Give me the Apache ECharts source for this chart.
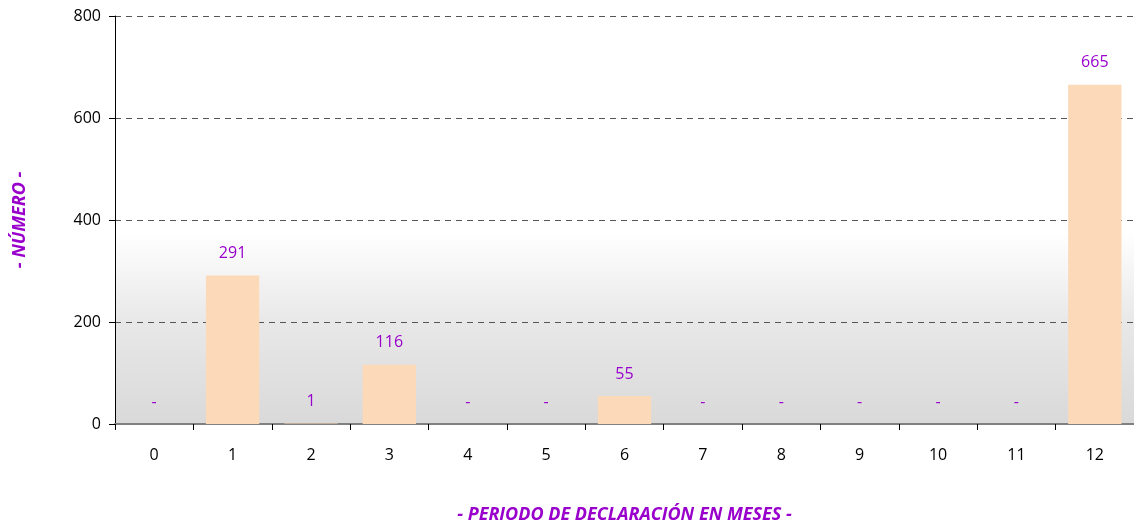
<!DOCTYPE html>
<html>
<head>
<meta charset="utf-8">
<script src="https://cdn.jsdelivr.net/npm/echarts@6/dist/echarts.min.js"></script>
<style>
  html, body { margin: 0; padding: 0; background: #fff; }
  #chart { width: 1134px; height: 526px; }
</style>
</head>
<body>
<div id="chart"></div>
<script>
var months = ['0', '1', '2', '3', '4', '5', '6', '7', '8', '9', '10', '11', '12'];
var counts = [0, 291, 1, 116, 0, 0, 55, 0, 0, 0, 0, 0, 665];
var yTicks = [0, 200, 400, 600, 800];

var purple = '#9900cc';
var fontFam = '"Open Sans", "Noto Sans", sans-serif';

var chart = echarts.init(document.getElementById('chart'));

var option = {
    animation: false,
    grid: {
        left: 115,
        right: 0,
        top: 16,
        bottom: 102,
        outerBoundsMode: 'none',
        containLabel: false,
        show: true,
        borderWidth: 0,
        backgroundColor: {
            type: 'linear', x: 0, y: 0, x2: 0, y2: 1,
            colorStops: [
                { offset: 0, color: '#ffffff' },
                { offset: 0.53, color: '#ffffff' },
                { offset: 0.75, color: '#e8e8e8' },
                { offset: 1, color: '#d9d9d9' }
            ]
        }
    },
    xAxis: {
        type: 'category',
        data: months,
        name: '- PERIODO DE DECLARACIÓN EN MESES -',
        nameLocation: 'middle',
        nameGap: 82,
        nameTextStyle: {
            color: purple,
            fontStyle: 'italic',
            fontWeight: 'bold',
            fontSize: 18,
            fontFamily: fontFam
        },
        axisLine: { lineStyle: { color: '#808080', width: 2 } },
        axisTick: { show: true, length: 6, lineStyle: { color: '#000' }, alignWithLabel: false },
        axisLabel: { color: '#000', fontSize: 16, margin: 23, fontFamily: fontFam }
    },
    yAxis: {
        type: 'value',
        min: yTicks[0],
        max: yTicks[yTicks.length - 1],
        interval: 200,
        name: '- NÚMERO -',
        nameLocation: 'middle',
        nameGap: 86,
        nameTextStyle: {
            color: purple,
            fontStyle: 'italic',
            fontWeight: 'bold',
            fontSize: 18,
            fontFamily: fontFam
        },
        axisLine: { show: true, lineStyle: { color: '#000', width: 1 } },
        axisTick: { show: true, length: 6, lineStyle: { color: '#000' } },
        axisLabel: { color: '#000', fontSize: 16, margin: 14, fontFamily: fontFam },
        splitLine: { lineStyle: { color: '#555', type: [6, 5], width: 1 } }
    },
    series: [
        {
            type: 'bar',
            data: counts,
            barWidth: '68%',
            itemStyle: { color: '#fcd9b8' },
            label: {
                show: true,
                position: 'top',
                distance: 14,
                color: purple,
                fontSize: 16,
                fontFamily: fontFam,
                formatter: function (p) {
                    return p.value === 0 ? '-' : p.value;
                }
            }
        }
    ]
};
chart.setOption(option);
</script>
</body>
</html>
